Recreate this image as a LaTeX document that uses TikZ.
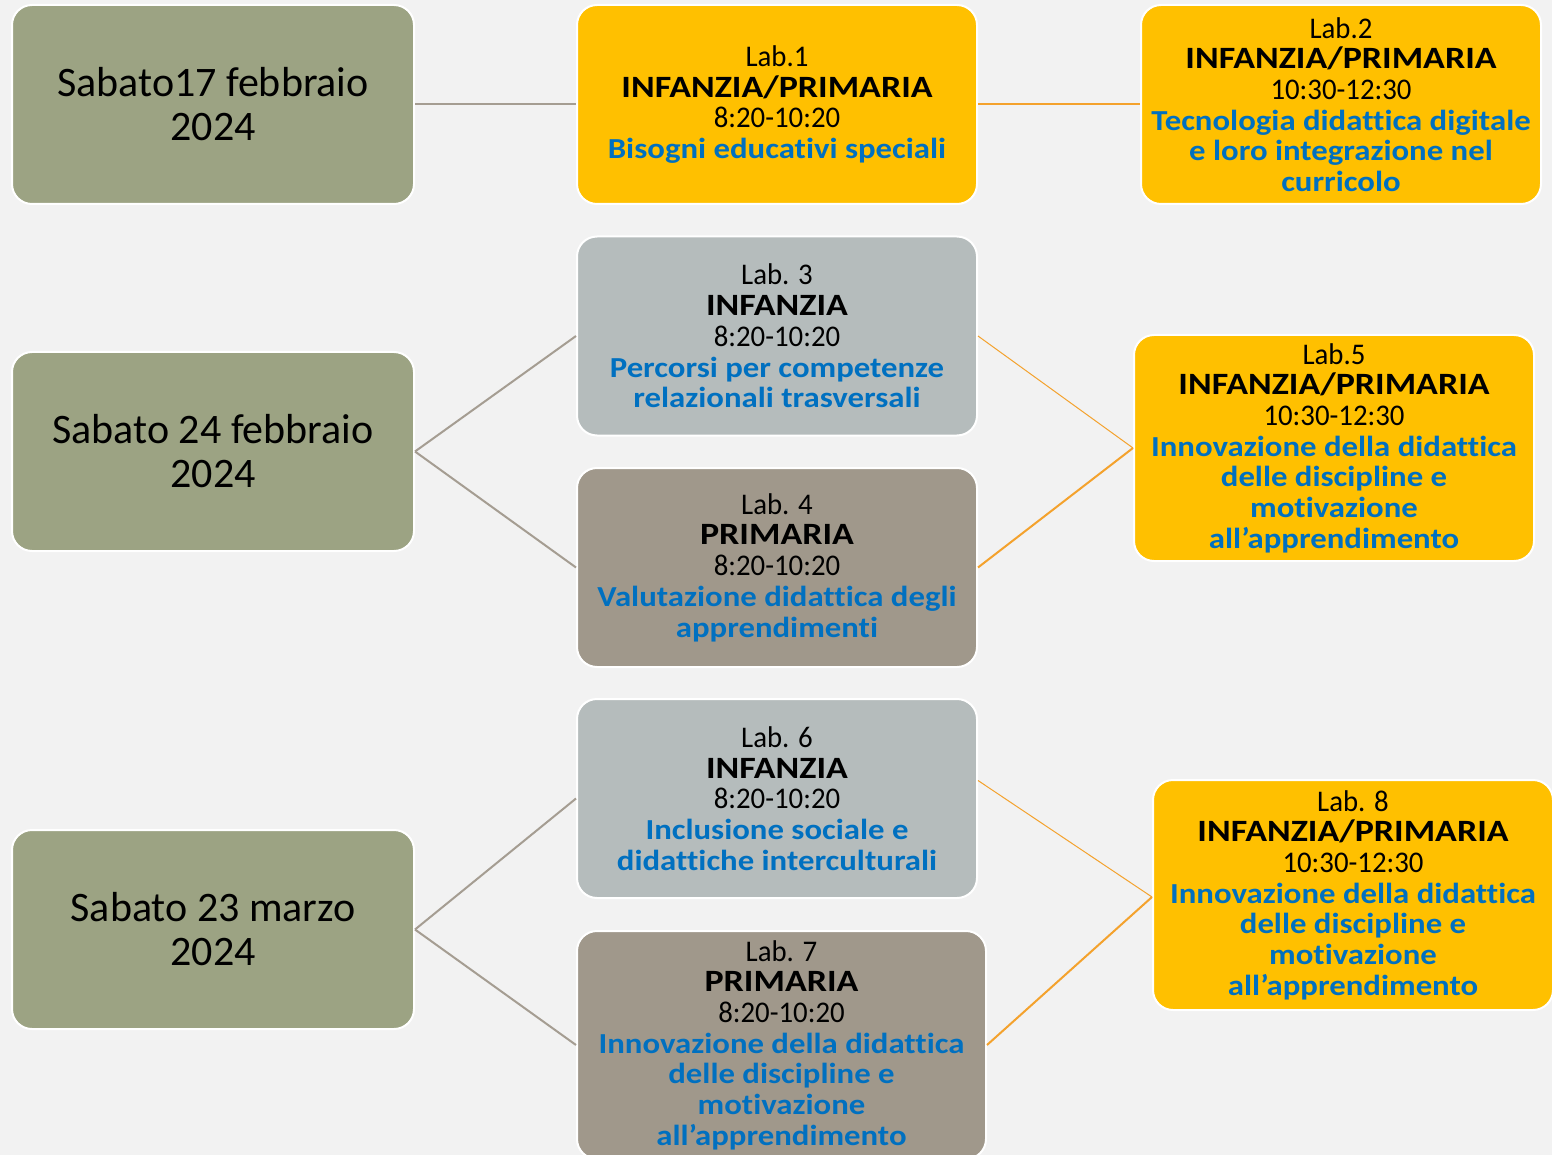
\documentclass[tikz,border=0pt]{standalone}
\usepackage{fontspec}
\setmainfont{Carlito}[FakeStretch=0.96, Ligatures=CommonOff]
\newfontfamily\datefont{Carlito}[Ligatures=CommonOff]
\newfontfamily\bwide{Carlito}[FakeStretch=1.13, Ligatures=CommonOff]
\newfontfamily\bcaps{Carlito}[FakeStretch=1.16]
\definecolor{bgc}{HTML}{F2F2F2}
\definecolor{olive}{HTML}{9CA383}
\definecolor{gold}{HTML}{FFC000}
\definecolor{bluegray}{HTML}{B5BCBC}
\definecolor{taupe}{HTML}{A0988B}
\definecolor{blu}{HTML}{0070C0}
\definecolor{linegray}{HTML}{A59D92}
\definecolor{lineorange}{HTML}{F4A22D}
\tikzset{
  box/.style={draw=white, line width=2pt, rounded corners=20pt, align=center, inner sep=0pt,
    font=\fontsize{30}{30.7}\selectfont},
  datebox/.style={box, fill=olive, minimum width=402pt, minimum height=199pt,
    font=\datefont\fontsize{42}{44}\selectfont},
  labbox/.style={box, minimum width=400pt, minimum height=199pt},
  glink/.style={draw=linegray, line width=2pt},
  olink/.style={draw=lineorange, line width=2pt},
  othin/.style={draw=lineorange, line width=1pt},
}
\newcommand{\ttl}[1]{{\bcaps\bfseries\fontsize{31}{30.7}\selectfont #1}}
\newcommand{\bl}[1]{{\bwide\bfseries\fontsize{29}{30.7}\selectfont\color{blu}#1}}
\begin{document}
\begin{tikzpicture}[x=1pt,y=-1pt]
\fill[bgc] (0,0) rectangle (1552,1155);
\clip (0,0) rectangle (1552,1155);
\node[datebox] (d1) at (213,104.5) {Sabato17 febbraio\\2024};
\node[datebox] (d2) at (213,451.5) {Sabato 24 febbraio\\2024};
\node[datebox] (d3) at (213,929.5) {Sabato 23 marzo\\2024};
\node[labbox, fill=gold] (l1) at (777,104.5) {Lab.1\\\ttl{INFANZIA/PRIMARIA}\\8:20-10:20\\\bl{Bisogni educativi speciali}};
\node[labbox, fill=gold] (l2) at (1341,104.5) {Lab.2\\\ttl{INFANZIA/PRIMARIA}\\10:30-12:30\\\bl{Tecnologia didattica digitale}\\\bl{e loro integrazione nel}\\\bl{curricolo}};
\node[labbox, fill=bluegray] (l3) at (777,336) {Lab. 3\\\ttl{INFANZIA}\\8:20-10:20\\\bl{Percorsi per competenze}\\\bl{relazionali trasversali}};
\node[labbox, fill=taupe] (l4) at (777,567.5) {Lab. 4\\\ttl{PRIMARIA}\\8:20-10:20\\\bl{Valutazione didattica degli}\\\bl{apprendimenti}};
\node[labbox, fill=gold, minimum height=226pt] (l5) at (1334,448) {Lab.5\\\ttl{INFANZIA/PRIMARIA}\\10:30-12:30\\\bl{Innovazione della didattica}\\\bl{delle discipline e}\\\bl{motivazione}\\\bl{all’apprendimento}};
\node[labbox, fill=bluegray] (l6) at (777,798.5) {Lab. 6\\\ttl{INFANZIA}\\8:20-10:20\\\bl{Inclusione sociale e}\\\bl{didattiche interculturali}};
\node[labbox, fill=taupe, minimum width=409pt, minimum height=228pt] (l7) at (781.5,1045) {Lab. 7\\\ttl{PRIMARIA}\\8:20-10:20\\\bl{Innovazione della didattica}\\\bl{delle discipline e}\\\bl{motivazione}\\\bl{all’apprendimento}};
\node[labbox, fill=gold, minimum height=230pt] (l8) at (1353,895) {Lab. 8\\\ttl{INFANZIA/PRIMARIA}\\10:30-12:30\\\bl{Innovazione della didattica}\\\bl{delle discipline e}\\\bl{motivazione}\\\bl{all’apprendimento}};
\draw[glink] (d1.east) -- (l1.west);
\draw[olink] (l1.east) -- (l2.west);
\draw[glink] (d2.east) -- (l3.west);
\draw[glink] (d2.east) -- (l4.west);
\draw[othin] (l3.east) -- (l5.west);
\draw[olink] (l4.east) -- (l5.west);
\draw[glink] (d3.east) -- (l6.west);
\draw[glink] (d3.east) -- (l7.west);
\draw[othin] ([yshift=18pt]l6.east) -- ([yshift=-2pt]l8.west);
\draw[olink] (l7.east) -- ([yshift=-2pt]l8.west);
\end{tikzpicture}
\end{document}
